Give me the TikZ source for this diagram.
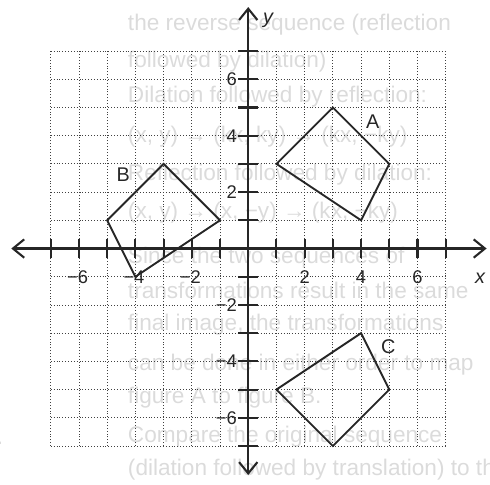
\documentclass[tikz,border=0pt]{standalone}
\usepackage{fontspec}
\setmainfont{Liberation Sans}
\usetikzlibrary{arrows.meta}

\begin{document}
\begin{tikzpicture}[
  >={Straight Barb[length=4mm,width=6.5mm]},
  gridline/.style={line width=0.9pt, black!75, dash pattern=on 0.9pt off 2pt},
  axis/.style={line width=2.1pt, black!85},
  figshape/.style={line width=1.9pt, black!85, line join=miter},
  ticklabel/.style={font=\fontsize{18.5}{18.5}\selectfont, text=black!85, inner sep=1pt},
  figlabel/.style={font=\fontsize{20}{20}\selectfont, text=black!85},
  axislabel/.style={font=\fontsize{20}{20}\selectfont\itshape, text=black!85},
  ghost/.style={anchor=west, inner sep=0pt, font=\fontsize{22.8}{22.8}\selectfont, text=black!14}
]
\useasboundingbox (-8.80,-8.35) rectangle (8.57,8.81);

% faint text of the page behind the figure
\node[ghost] (ghostA) at (-4.27,7.93) {the reverse sequence (reflection};
\node[ghost] (ghostB) at (-4.27,6.61) {followed by dilation)};
\node[ghost] (ghostC) at (-4.27,5.38) {Dilation followed by reflection:};
\node[ghost] (ghostD) at (-4.27,3.98) {(x, y) → (kx, ky) → (kx, −ky)};
\node[ghost] (ghostE) at (-4.27,2.63) {Reflection followed by dilation:};
\node[ghost] (ghostF) at (-4.27,1.28) {(x, y) → (x, −y) → (kx, −ky)};
\node[ghost] (ghostG) at (-4.27,-0.34) {Since the two sequences of};
\node[ghost] (ghostH) at (-4.27,-1.47) {transformations result in the same};
\node[ghost] (ghostI) at (-4.27,-2.71) {final image, the transformations};
\node[ghost] (ghostJ) at (-4.27,-4.10) {can be done in either order to map};
\node[ghost] (ghostK) at (-4.27,-5.27) {figure A to figure B.};
\node[ghost] (ghostL) at (-4.27,-6.67) {Compare the original sequence};
\node[ghost, anchor=east] (ghostM) at (-8.68,-6.67) {b.};
\node[ghost] (ghostN) at (-4.27,-7.85) {(dilation followed by translation) to the};

% grid and axes
\draw[gridline] (-7,-7) grid (7,7);
\draw[axis,<->] (-8.4,0) -- (8.45,0);
\draw[axis,<->] (0,-8.03) -- (0,8.56);
\foreach \t in {-7,...,-1,1,2,...,7} {
  \draw[axis] (\t,-0.35) -- (\t,0.35);
  \draw[axis] (-0.35,\t) -- (0.35,\t);
}
\foreach \t in {2,4,6} {
  \node[ticklabel] (xpos\t) at (\t,-1) {\t};
  \node[ticklabel] (xneg\t) at (-\t-0.05,-1) {−\t};
  \node[ticklabel, anchor=east] (ypos\t) at (-0.36,\t) {\t};
  \node[ticklabel, anchor=east] (yneg\t) at (-0.36,-\t) {−\t};
}
\node[axislabel] (xlabel) at (8.22,-1.05) {x};
\node[axislabel] (ylabel) at (0.7,8.1) {y};

% the three figures
\draw[figshape] (1,3) -- (3,5) -- (5,3) -- (4,1) -- cycle;
\draw[figshape] (-1,1) -- (-3,3) -- (-5,1) -- (-4,-1) -- cycle;
\draw[figshape] (1,-5) -- (4,-3) -- (5,-5) -- (3,-7) -- cycle;
\node[figlabel] (labA) at (4.41,4.5) {A};
\node[figlabel] (labB) at (-4.43,2.61) {B};
\node[figlabel] (labC) at (4.96,-3.48) {C};
\end{tikzpicture}
\end{document}
